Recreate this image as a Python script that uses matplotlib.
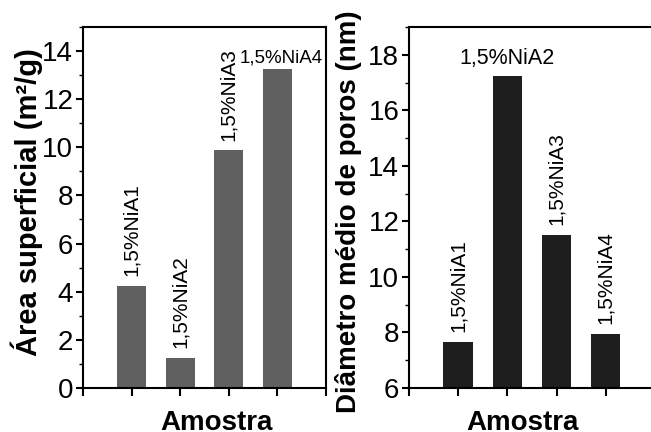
import matplotlib
matplotlib.use('Agg')
from matplotlib import pyplot as plt
from matplotlib.ticker import MultipleLocator

plt.rcParams['font.family'] = ['Liberation Sans', 'DejaVu Sans']

amostras = ['1,5%NiA1', '1,5%NiA2', '1,5%NiA3', '1,5%NiA4']
area = [4.25, 1.25, 9.87, 13.25]
diametro = [7.65, 17.25, 11.52, 7.95]

# which bar labels are written horizontally
area_flat = [False, False, False, True]
diam_flat = [False, True, False, False]


def style_axis(ax, ymin, ymax):
    for s in ax.spines.values():
        s.set_linewidth(1.5)
    ax.set_xlim(0, 5)
    ax.set_ylim(ymin, ymax)
    ax.set_xticks(range(6))
    ax.set_xticklabels([])
    ax.yaxis.set_major_locator(MultipleLocator(2))
    ax.yaxis.set_minor_locator(MultipleLocator(1))
    ax.tick_params(axis='x', direction='out', length=6, width=1.5)
    ax.tick_params(axis='y', which='major', direction='out', length=5, width=1.5,
                   labelsize=20, pad=2)
    ax.tick_params(axis='y', which='minor', direction='out', length=3, width=1)


def label_bars(ax, values, flat, flat_size, flat_off):
    for i, (v, name) in enumerate(zip(values, amostras)):
        if flat[i]:
            ax.annotate(name, (i + 1, v), xytext=flat_off, textcoords='offset points',
                        ha='center', va='bottom', fontsize=flat_size)
        else:
            ax.annotate(name, (i + 1, v), xytext=(0, 7), textcoords='offset points',
                        ha='center', va='bottom', rotation=90, fontsize=15)


fig = plt.figure(figsize=(6.51, 4.32), dpi=100)
ax1 = fig.add_axes([0.1275, 0.102, 0.3733, 0.8355])
ax2 = fig.add_axes([0.6283, 0.102, 0.3777, 0.8355])

x = [1, 2, 3, 4]
ax1.bar(x, area, width=0.6, color='#606060')
style_axis(ax1, 0, 15)
label_bars(ax1, area, area_flat, 13.5, (3, 2))
ax1.set_ylabel('Área superficial (m²/g)', fontsize=21, fontweight='bold')
ax1.yaxis.set_label_coords(-0.165, 0.515)
ax1.set_xlabel('Amostra', fontsize=20, fontweight='bold')
ax1.xaxis.set_label_coords(0.55, -0.06)

ax2.bar(x, diametro, width=0.6, color='#1e1e1e')
style_axis(ax2, 6, 19)
label_bars(ax2, diametro, diam_flat, 15.5, (0, 5))
ax2.set_ylabel('Diâmetro médio de poros (nm)', fontsize=20, fontweight='bold')
ax2.yaxis.set_label_coords(-0.19, 0.4875)
ax2.set_xlabel('Amostra', fontsize=20, fontweight='bold')
ax2.xaxis.set_label_coords(0.46, -0.06)

fig.savefig('out.png', dpi=100)
